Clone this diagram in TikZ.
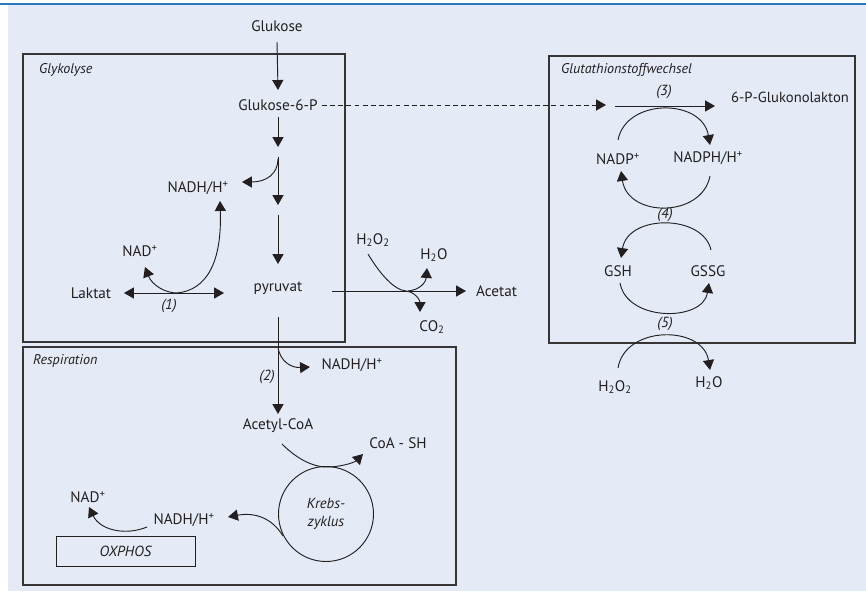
\documentclass[tikz,border=0pt]{standalone}
\usepackage{fontspec}
\setmainfont{PT Sans}
\usetikzlibrary{arrows.meta}
\definecolor{ink}{RGB}{35,31,32}
\definecolor{bgblue}{RGB}{228,235,246}
\definecolor{rulblue}{RGB}{41,120,190}

\begin{document}
\begin{tikzpicture}[x=0.03cm,y=-0.03cm,
	txt/.style={font=\fontsize{13}{15}\selectfont,inner sep=0pt,text=ink},
	num/.style={txt,font=\fontsize{12.5}{15}\selectfont\itshape},
	ttl/.style={txt,font=\fontsize{12}{15}\selectfont\itshape,anchor=west},
	box/.style={draw=ink!90,line width=1pt},
	arr/.style={draw=ink,line width=0.8pt,-{Triangle[length=8.5pt,width=9.5pt]}},
	darr/.style={arr,{Triangle[length=8.5pt,width=9.5pt]}-{Triangle[length=8.5pt,width=9.5pt]}}]
			\useasboundingbox (0,0) rectangle (866,593);
			\fill[bgblue] (8,5) rectangle (866,591);
			\draw[rulblue,line width=1.5pt] (0,4) -- (866,4);
			
			% boxes
			\draw[box] (23,54) rectangle (345,342);
			\draw[box] (23,347) rectangle (456,585);
			\draw[box] (549,56) rectangle (855,343);
			\node[ttl] (glyk) at (39,70) {Glykolyse};
			\node[ttl] (resp) at (33,361) {Respiration};
			\node[ttl] (glut) at (561,70) {Glutathionstoffwechsel};
			
			% glycolysis
			\node[txt] (glc) at (277,26) {Glukose};
			\node[txt] (g6p) at (278,105) {Glukose-6-P};
			\node[txt] (pyr) at (278,288) {pyruvat};
			\node[txt] (nadhA) at (198,188) {NADH/H\textsuperscript{+}};
			\node[txt] (nadA) at (140,251) {NAD\textsuperscript{+}};
			\node[txt] (lak) at (91,293) {Laktat};
			\node[num] (n1) at (169,306) {(1)};
			\coordinate (s1) at (278,117);
			\coordinate (e1) at (278,147);
			\coordinate (s2) at (278,157);
			\coordinate (e2) at (278,205);
			\coordinate (s3) at (278,215);
			\coordinate (e3) at (278,264);
			\draw[arr] (glc) ++(0,16) -- (278,90);
			\draw[arr] (s1) -- (e1);
			\draw[arr] (s2) -- (e2);
			\draw[arr] (s3) -- (e3);
			\draw[arr] (278,159) .. controls (278,174) and (266,182) .. (242,182);
			\draw[darr] (124,293) -- (224,293);
			\draw[darr] (145,267) .. controls (152,285) and (165,293) .. (177,293) .. controls (207,290) and (222,262) .. (220,201);
			
			% acetate
			\node[txt] (h2o2A) at (373,240) {H\textsubscript{2}O\textsubscript{2}};
			\node[txt] (h2oA) at (434,255) {H\textsubscript{2}O};
			\node[txt] (co2) at (432,327) {CO\textsubscript{2}};
			\node[txt,anchor=west] (acet) at (476,291) {Acetat};
			\coordinate (acin) at (466,291);
			\draw[arr] (332,291) -- (acin);
			\draw[arr] (368,254) .. controls (380,274) and (394,290) .. (406,291) .. controls (415,292) and (420,300) .. (420,312);
			\draw[arr] (408,291) .. controls (420,290) and (426,282) .. (427,268);
			
			% respiration
			\node[txt] (nadhB) at (352,365) {NADH/H\textsuperscript{+}};
			\node[num] (n2) at (267,377) {(2)};
			\node[txt] (acoa) at (278,426) {Acetyl-CoA};
			\node[txt] (coash) at (398,443) {CoA - SH};
			\node[draw=ink,line width=0.8pt,circle,minimum size=2.85cm,inner sep=0pt,
				font=\fontsize{12.5}{15}\selectfont\itshape,align=center,text=ink] (krebs) at (326,514) {Krebs-\\zyklus};
			\node[txt] (nadhC) at (184,520) {NADH/H\textsuperscript{+}};
			\node[txt] (nadC) at (88,497) {NAD\textsuperscript{+}};
			\node[draw=ink,line width=0.8pt,minimum width=4.17cm,minimum height=0.9cm,inner sep=0pt,
				font=\fontsize{12.5}{15}\selectfont\itshape,text=ink] (oxphos) at (125.5,551) {OXPHOS};
			\draw[arr] (278,317) -- (278,414);
			\draw[arr] (278,347) .. controls (280,362) and (292,368) .. (310,367);
			\draw[arr] (282,444) .. controls (298,460) and (315,468) .. (330,467) .. controls (345,466) and (355,462) .. (363,454);
			\draw[arr] (283,536) .. controls (272,518) and (255,512) .. (228,517);
			\draw[arr] (147,527) .. controls (125,536) and (100,530) .. (89,507);
			
			% glutathione
			\node[num] (n3) at (664,92) {(3)};
			\node[txt,font=\fontsize{12.5}{15}\selectfont,anchor=west] (glk) at (731,97) {6-P-Glukonolakton};
			\node[txt] (nadp) at (618,159) {NADP\textsuperscript{+}};
			\node[txt] (nadph) at (708,158) {NADPH/H\textsuperscript{+}};
			\node[num] (n4) at (665,215) {(4)};
			\node[txt] (gsh) at (618,271) {GSH};
			\node[txt] (gssg) at (708,271) {GSSG};
			\node[num] (n5) at (665,324) {(5)};
			\node[txt] (h2o2B) at (615,387) {H\textsubscript{2}O\textsubscript{2}};
			\node[txt] (h2oB) at (709,383) {H\textsubscript{2}O};
			\draw[arr,dash pattern=on 4pt off 3pt] (g6p.east) ++(4,0) -- (606,105);
			\draw[arr] (615,106) -- (715,106);
			\draw[arr] (618,140) .. controls (626,98) and (702,98) .. (710,145);
			\draw[arr] (710,176) .. controls (702,218) and (628,218) .. (621,171);
			\draw[arr] (711,250) .. controls (703,214) and (628,214) .. (621,258);
			\draw[arr] (620,283) .. controls (627,322) and (703,322) .. (709,283);
			\draw[arr] (618,368) .. controls (625,325) and (703,325) .. (710,370);
\end{tikzpicture}
\end{document}
